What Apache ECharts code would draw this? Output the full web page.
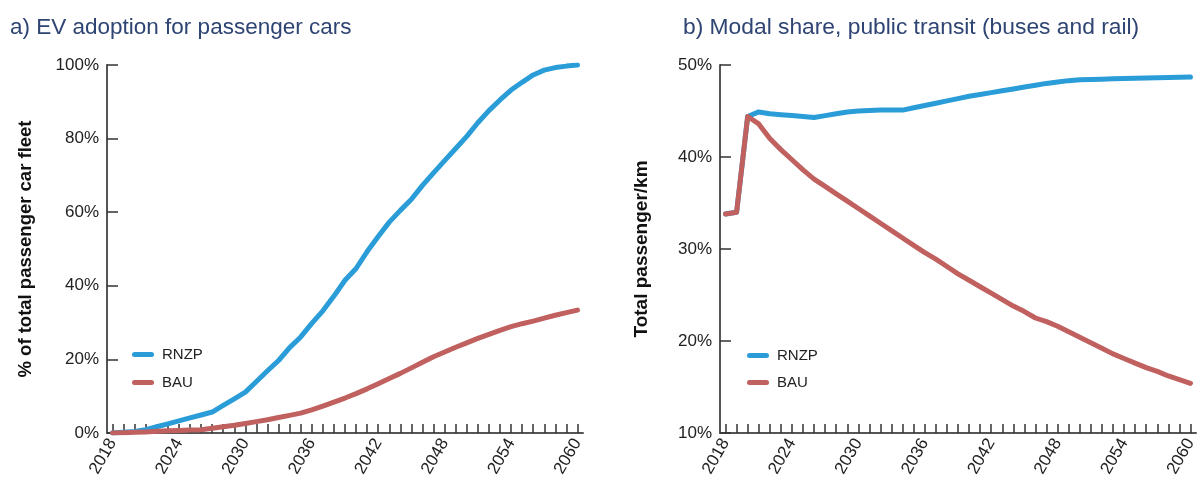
<!DOCTYPE html>
<html>
<head>
<meta charset="utf-8">
<script src="https://cdn.jsdelivr.net/npm/echarts@6/dist/echarts.min.js"></script>
<style>
html,body{margin:0;padding:0;background:#fff;}
#chart{width:1200px;height:481px;}
</style>
</head>
<body>
<div id="chart"></div>
<script>
const years = [];
for (let y = 2018; y <= 2060; y++) years.push(String(y));

const titleA = 'a) EV adoption for passenger cars';
const titleB = 'b) Modal share, public transit (buses and rail)';
const yNameA = '% of total passenger car fleet';
const yNameB = 'Total passenger/km';
const seriesNames = ['RNZP', 'BAU'];

// Panel a: EV share of passenger car fleet (%)
const evRNZP = [0, 0.2, 0.4, 0.9, 1.7, 2.5, 3.3, 4.1, 4.9, 5.7, 7.5, 9.3, 11.1, 14.0, 16.9, 19.7, 23.2, 26.1, 29.8, 33.2, 37.2, 41.5, 44.7, 49.3, 53.4, 57.3, 60.5, 63.5, 67.3, 70.7, 74.0, 77.3, 80.6, 84.3, 87.6, 90.5, 93.2, 95.3, 97.3, 98.6, 99.3, 99.7, 100];
const evBAU = [0, 0.1, 0.2, 0.3, 0.45, 0.6, 0.7, 0.8, 0.9, 1.3, 1.7, 2.1, 2.6, 3.1, 3.6, 4.2, 4.8, 5.4, 6.3, 7.3, 8.4, 9.5, 10.7, 12.0, 13.4, 14.8, 16.2, 17.7, 19.2, 20.7, 22.0, 23.3, 24.5, 25.7, 26.8, 27.9, 28.9, 29.7, 30.4, 31.2, 32.0, 32.7, 33.4];

// Panel b: modal share of public transit (%)
const ptRNZP = [33.8, 34.0, 44.4, 44.9, 44.7, 44.6, 44.5, 44.4, 44.3, 44.5, 44.7, 44.9, 45.0, 45.05, 45.1, 45.1, 45.1, 45.35, 45.6, 45.85, 46.1, 46.35, 46.6, 46.8, 47.0, 47.2, 47.4, 47.6, 47.8, 48.0, 48.15, 48.3, 48.4, 48.43, 48.46, 48.5, 48.52, 48.55, 48.58, 48.61, 48.64, 48.67, 48.7];
const ptBAU = [33.8, 34.0, 44.4, 43.6, 42.0, 40.8, 39.7, 38.6, 37.6, 36.8, 36.0, 35.2, 34.4, 33.6, 32.8, 32.0, 31.2, 30.4, 29.6, 28.9, 28.1, 27.3, 26.6, 25.9, 25.2, 24.5, 23.8, 23.2, 22.5, 22.1, 21.6, 21.0, 20.4, 19.8, 19.2, 18.6, 18.1, 17.6, 17.1, 16.7, 16.2, 15.8, 15.4];

const BLUE = '#2a9dd8';
const RED = '#c0605f';
const FONT = '"Liberation Sans", Arial, sans-serif';
const TITLE_COLOR = '#2e4472';
const AXIS_COLOR = '#555';
const TEXT_COLOR = '#222';

const legendIcon = 'path://M2.5,0 H19.5 A2.5,2.5 0 0 1 19.5,5 H2.5 A2.5,2.5 0 0 1 2.5,0 Z';

function xAxis(gridIndex) {
  return {
    type: 'category', gridIndex, data: years, boundaryGap: true,
    axisLine: { lineStyle: { color: AXIS_COLOR, width: 2 } },
    axisTick: { show: true, inside: true, alignWithLabel: true, interval: 0, length: 9, lineStyle: { color: '#333', width: 1.5 } },
    axisLabel: { interval: 5, rotate: 60, margin: 7, fontSize: 17, color: TEXT_COLOR, fontFamily: FONT }
  };
}
function yAxis(gridIndex, min, max, interval, name, nameGap, nameSize) {
  return {
    type: 'value', gridIndex, min, max, interval,
    name, nameLocation: 'middle', nameGap,
    nameTextStyle: { fontSize: nameSize, fontWeight: 'bold', color: '#111', fontFamily: FONT },
    axisLine: { show: true, lineStyle: { color: AXIS_COLOR, width: 2 } },
    axisTick: { show: true, inside: true, length: 11, lineStyle: { color: '#333', width: 1.5 } },
    axisLabel: { formatter: '{value}%', fontSize: 17, margin: 8, color: TEXT_COLOR, fontFamily: FONT },
    splitLine: { show: false }
  };
}
function line(name, data, color, idx) {
  return {
    type: 'line', name, data, xAxisIndex: idx, yAxisIndex: idx,
    showSymbol: false, symbol: 'none', color,
    lineStyle: { width: 5, color, cap: 'round', join: 'round' },
    animation: false
  };
}

const chart = echarts.init(document.getElementById('chart'));
chart.setOption({
  backgroundColor: '#fff',
  animation: false,
  title: [
    { text: titleA, left: 5, top: 11, textStyle: { fontSize: 22.5, fontWeight: 'normal', color: TITLE_COLOR, fontFamily: FONT } },
    { text: titleB, left: 678, top: 11, textStyle: { fontSize: 22.8, fontWeight: 'normal', color: TITLE_COLOR, fontFamily: FONT } }
  ],
  grid: [
    { left: 107, top: 65, width: 476, height: 368, containLabel: false },
    { left: 720, top: 65, width: 476, height: 368, containLabel: false }
  ],
  legend: [
    { orient: 'vertical', left: 127, top: 342, itemWidth: 22, itemHeight: 5, itemGap: 13, icon: legendIcon,
      data: seriesNames, textStyle: { fontSize: 15, color: TEXT_COLOR, fontFamily: FONT, padding: [0, 0, 0, 3] }, selectedMode: false },
    { orient: 'vertical', left: 742, top: 343, itemWidth: 22, itemHeight: 5, itemGap: 12, icon: legendIcon,
      data: seriesNames, textStyle: { fontSize: 15, color: TEXT_COLOR, fontFamily: FONT, padding: [0, 0, 0, 3] }, selectedMode: false }
  ],
  xAxis: [xAxis(0), xAxis(1)],
  yAxis: [yAxis(0, 0, 100, 20, yNameA, 72, 18.5), yAxis(1, 10, 50, 10, yNameB, 69, 19)],
  series: [
    line(seriesNames[0], evRNZP, BLUE, 0),
    line(seriesNames[1], evBAU, RED, 0),
    line(seriesNames[0], ptRNZP, BLUE, 1),
    line(seriesNames[1], ptBAU, RED, 1)
  ]
});
</script>
</body>
</html>
